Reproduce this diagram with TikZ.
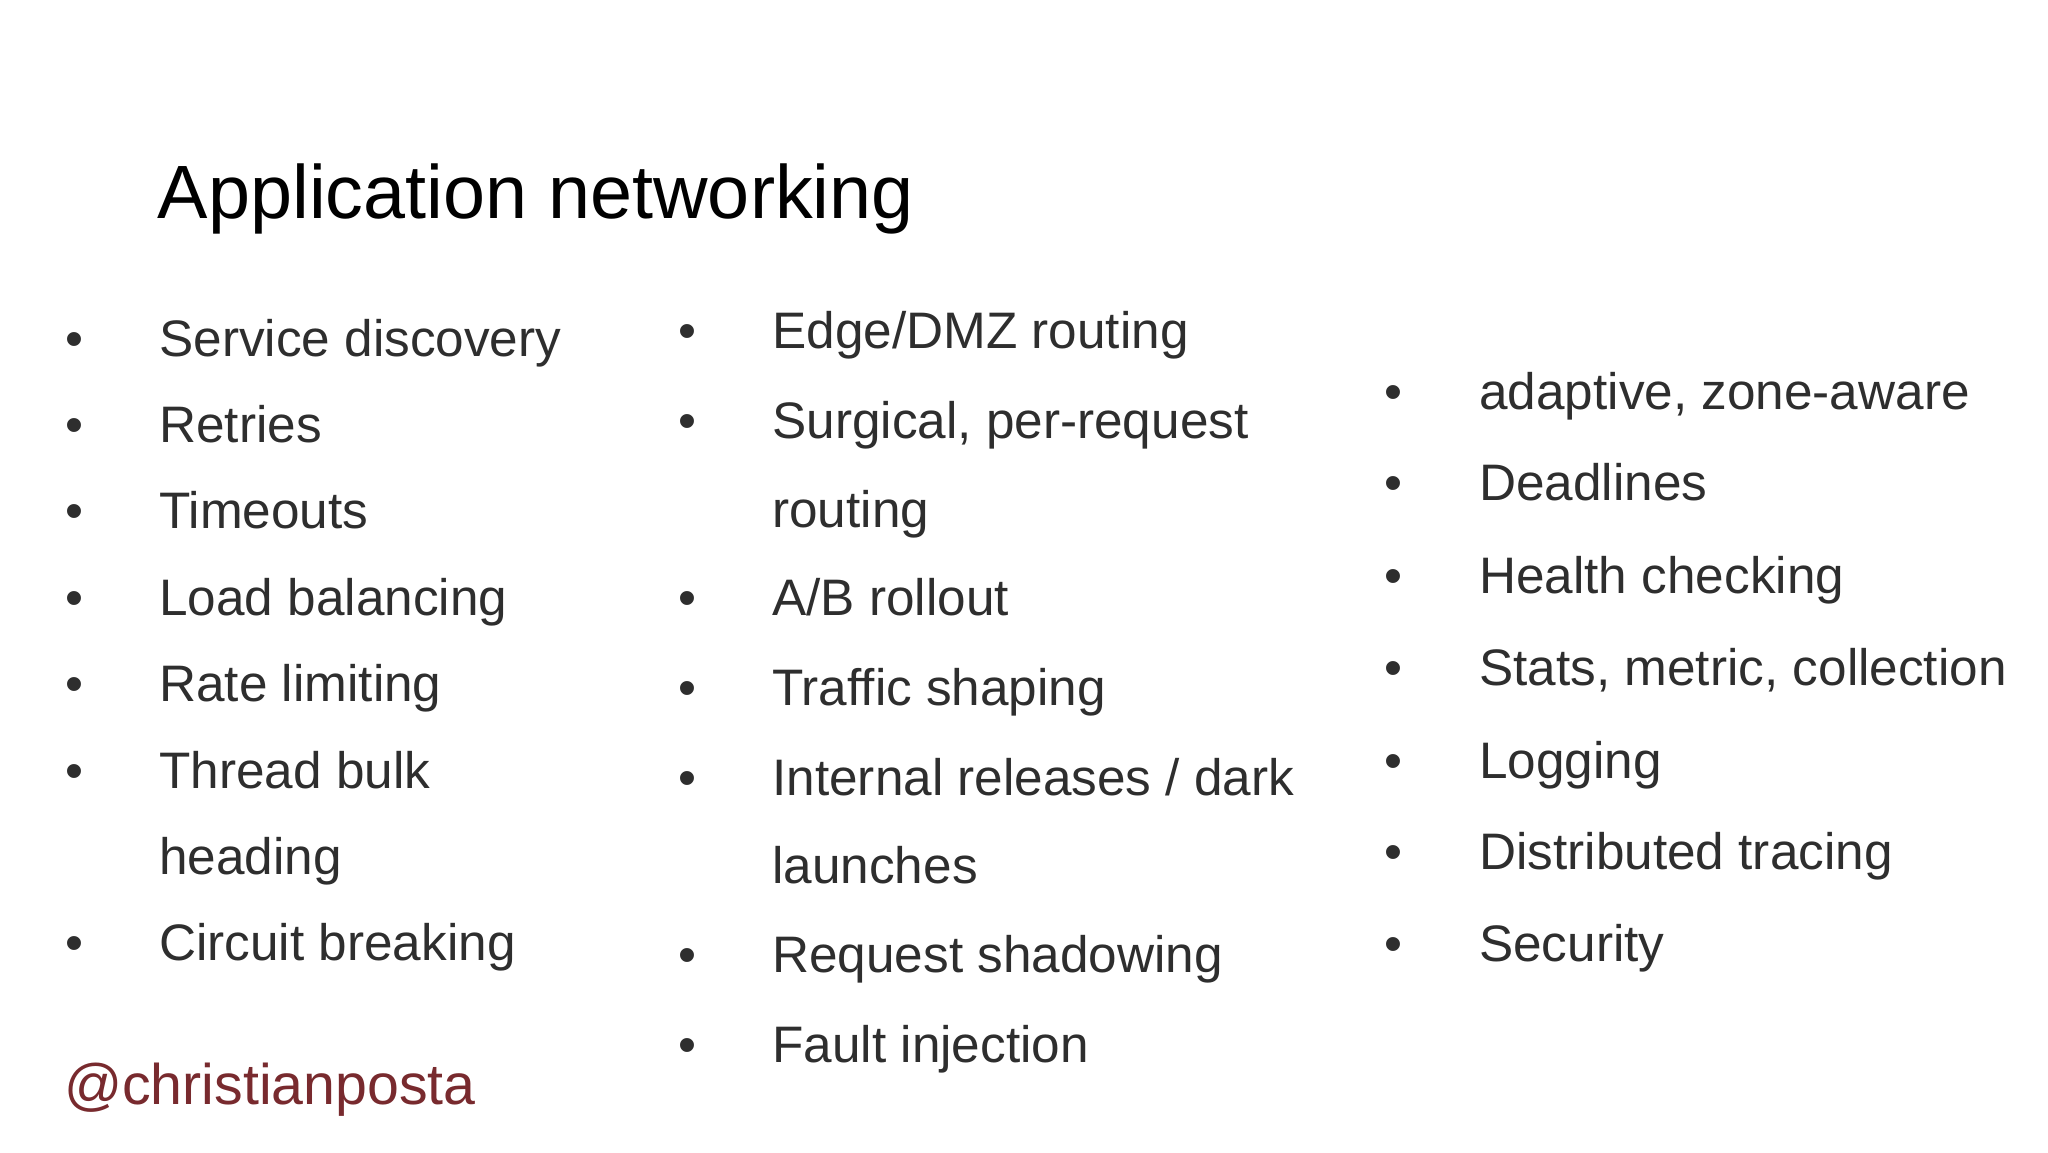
\documentclass[tikz,border=0pt]{standalone}
\usepackage{fontspec}
\setmainfont{Liberation Sans}
\definecolor{body}{HTML}{2E2E2E}
\definecolor{handle}{HTML}{782A2E}
\begin{document}
\begin{tikzpicture}[x=0.013213cm,y=-0.013213cm,
  it/.style={anchor=base west,inner sep=0,text=body,font=\fontsize{14.6pt}{17pt}\selectfont},
  bul/.style={anchor=base,inner sep=0,text=body,font=\fontsize{14.6pt}{17pt}\selectfont}]
\useasboundingbox[fill=white] (0,0) rectangle (1550,871.9);
\node[anchor=base west,inner sep=0,font=\fontsize{21.5pt}{25pt}\selectfont] (title) at (119,165) {Application networking};
% column 1
\foreach \t/\y [count=\i] in {Service discovery/257,Retries/322,Timeouts/387,Load balancing/453,Rate limiting/518,Thread bulk/584,Circuit breaking/714}{
  \node[bul] (a\i b) at (56,\y+13) {•};
  \node[it] (a\i) at (120,\y+13) {\t};}
\node[it] (a6c) at (120,649+13) {heading};
% column 2
\foreach \t/\y [count=\i] in {{Edge/DMZ routing}/251,{Surgical, per-request}/319,{A/B rollout}/453,Traffic shaping/521,{Internal releases / dark}/589,Request shadowing/723,Fault injection/791}{
  \node[bul] (b\i b) at (520,\y+13) {•};
  \node[it] (b\i) at (584,\y+13) {\t};}
\node[it] (b2c) at (584,386+13) {routing};
\node[it] (b5c) at (584,656+13) {launches};
% column 3
\foreach \t/\y [count=\i] in {{adaptive, zone-aware}/297,Deadlines/366,Health checking/436,{Stats, metric, collection}/506,Logging/576,Distributed tracing/645,Security/715}{
  \node[bul] (c\i b) at (1055,\y+13) {•};
  \node[it] (c\i) at (1119,\y+13) {\t};}
\node[anchor=base west,inner sep=0,text=handle,font=\fontsize{16.3pt}{19pt}\selectfont] (handle) at (48,836) {@christianposta};
\end{tikzpicture}
\end{document}
